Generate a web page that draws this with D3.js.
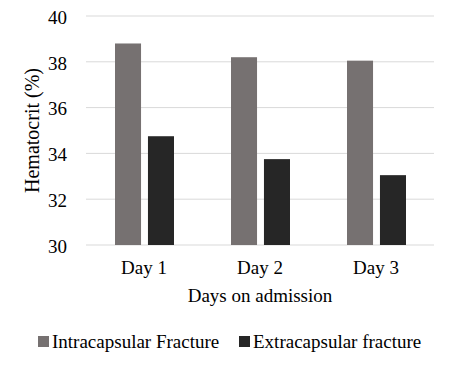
<!DOCTYPE html>
<html lang="en">
<head>
<meta charset="utf-8">
<title>Hematocrit by day</title>
<script src="https://d3js.org/d3.v7.min.js"></script>
<style>
  body { margin: 0; background: #fff; }
  text { font-family: "Liberation Serif", "Times New Roman", serif; fill: #000; }
</style>
</head>
<body>
<div id="chart"></div>
<script>
// data
var days = ["Day 1", "Day 2", "Day 3"];
var seriesNames = ["Intracapsular Fracture", "Extracapsular fracture"];
var intracapsular = [38.8, 38.2, 38.05];
var extracapsular = [34.75, 33.75, 33.05];
var yTicks = [30, 32, 34, 36, 38, 40];
var colors = ["#767171", "#262626"];

var W = 450, H = 367;
var margin = {top: 16, right: 16, bottom: 122, left: 86};
var width = W - margin.left - margin.right,
    height = H - margin.top - margin.bottom;

var svg = d3.select("#chart").append("svg")
    .attr("width", W)
    .attr("height", H)
  .append("g")
    .attr("transform", "translate(" + margin.left + "," + margin.top + ")");

var x = d3.scaleBand().domain(days).range([0, width]).paddingInner(0).paddingOuter(0);
var x1 = d3.scaleBand().domain(seriesNames).range([29, x.bandwidth() - 28]).paddingInner(0.21);
var y = d3.scaleLinear().domain([30, 40]).range([height, 0]);

// gridlines
svg.append("g")
  .selectAll("line")
  .data(yTicks)
  .enter().append("line")
    .attr("x1", 0).attr("x2", width)
    .attr("y1", function(d) { return y(d); })
    .attr("y2", function(d) { return y(d); })
    .attr("stroke", "#d9d9d9")
    .attr("stroke-width", 1);

// y axis labels
var yAxis = svg.append("g")
    .call(d3.axisLeft(y).tickValues(yTicks).tickSize(0).tickPadding(19));
yAxis.select(".domain").remove();
yAxis.attr("font-family", null).attr("font-size", null);
yAxis.selectAll("text").style("font-size", "19px").attr("dy", "0.38em");

// bars
var rows = days.map(function(d, i) { return {day: d, vals: [intracapsular[i], extracapsular[i]]}; });
svg.append("g")
  .selectAll("g")
  .data(rows)
  .enter().append("g")
    .attr("transform", function(d) { return "translate(" + x(d.day) + ",0)"; })
  .selectAll("rect")
  .data(function(d) { return d.vals.map(function(v, j) { return {name: seriesNames[j], v: v, j: j}; }); })
  .enter().append("rect")
    .attr("x", function(d) { return x1(d.name); })
    .attr("width", x1.bandwidth())
    .attr("y", function(d) { return y(d.v); })
    .attr("height", function(d) { return y(30) - y(d.v); })
    .attr("fill", function(d) { return colors[d.j]; });

// x axis labels
var xAxis = svg.append("g")
    .attr("transform", "translate(0," + height + ")")
    .call(d3.axisBottom(x).tickSize(0).tickPadding(16));
xAxis.select(".domain").remove();
xAxis.attr("font-family", null).attr("font-size", null);
xAxis.selectAll("text").style("font-size", "19px");

// axis titles
svg.append("text")
    .attr("x", width / 2)
    .attr("y", height + 57)
    .attr("text-anchor", "middle")
    .style("font-size", "19px")
    .text("Days on admission");

svg.append("text")
    .attr("transform", "rotate(-90)")
    .attr("x", -height / 2)
    .attr("y", -47)
    .attr("text-anchor", "middle")
    .style("font-size", "20px")
    .text("Hematocrit (%)");

// legend
var legendX = [38 - margin.left, 239 - margin.left];
var legend = svg.append("g")
    .attr("transform", "translate(0," + (342 - margin.top) + ")");
var item = legend.selectAll("g")
  .data(seriesNames)
  .enter().append("g")
    .attr("transform", function(d, i) { return "translate(" + legendX[i] + ",0)"; });
item.append("rect")
    .attr("x", 0).attr("y", -6)
    .attr("width", 11).attr("height", 11)
    .attr("fill", function(d, i) { return colors[i]; });
item.append("text")
    .attr("x", 14)
    .attr("y", 6)
    .style("font-size", "19px")
    .text(function(d) { return d; });
</script>
</body>
</html>
